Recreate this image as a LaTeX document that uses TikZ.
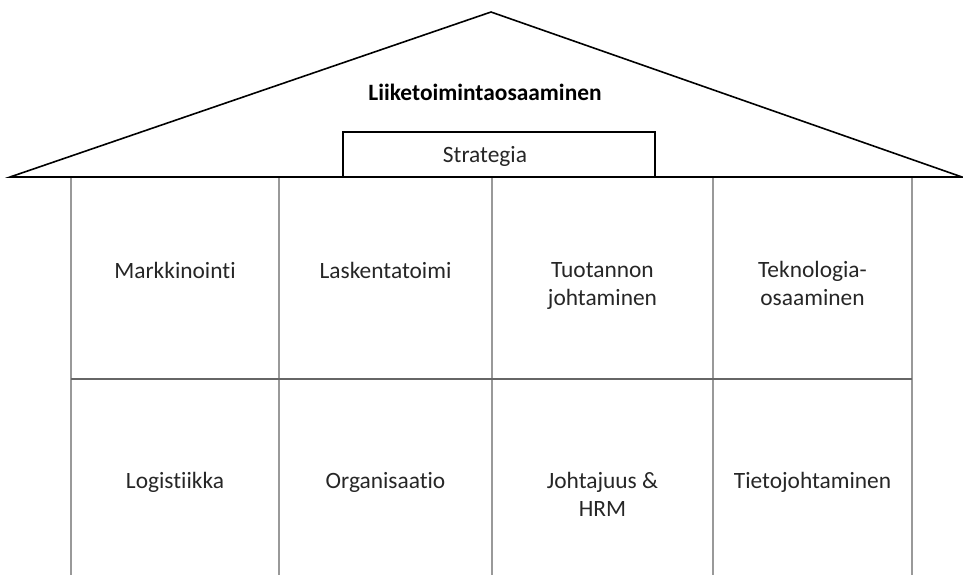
\documentclass[tikz,border=0pt]{standalone}
\usepackage{fontspec}
\setmainfont{Carlito}[Ligatures={NoCommon}]
\usepackage{tikz}
\usetikzlibrary{positioning}

\begin{document}
\begin{tikzpicture}[
  x=0.5pt, y=-0.5pt,
  font=\fontsize{11.7}{13.6}\selectfont,
  roof/.style={draw=black, line width=0.8pt, line join=miter},
  pillar/.style={draw=gray!80, line width=1pt},
  floor/.style={draw=black!60, line width=1pt},
  cell/.style={anchor=base, align=center, inner sep=0pt, text=black!85},
]
\useasboundingbox (0,0) rectangle (963,575);

% pillars and floor
\foreach \px/\nm in {71/p0, 279/p1, 492/p2, 713/p3, 912/p4}{
  \coordinate (\nm t) at (\px,177);
  \coordinate (\nm b) at (\px,575);
  \draw[pillar] (\nm t) -- (\nm b);
}
\coordinate (fl) at (71,379);
\coordinate (fr) at (912,379);
\draw[floor] (fl) -- (fr);

% roof
\coordinate (rl) at (10,177);
\coordinate (rt) at (491,12);
\coordinate (rr) at (962,177);
\draw[roof] (rl) -- (rt) -- (rr) -- cycle;
\node[cell, font=\fontsize{11.7}{13.6}\selectfont\bfseries, text=black] (lio) at (485,100) {Liiketoimintaosaaminen};

\draw[roof] (343,177) rectangle (655,132);
\node[cell] (str) at (485,162) {Strategia};

% upper row (base = last line)
\node[cell] (mar) at (175,278) {Markkinointi};
\node[cell] (las) at (385.5,278) {Laskentatoimi};
\node[cell] (tuo) at (602.5,305) {Tuotannon\\johtaminen};
\node[cell] (tek) at (812.5,305) {Teknologia-\\osaaminen};

% lower row
\node[cell] (log) at (175,488) {Logistiikka};
\node[cell] (org) at (385.5,488) {Organisaatio};
\node[cell] (joh) at (602.5,516) {Johtajuus \&\\HRM};
\node[cell] (tie) at (812.5,488) {Tietojohtaminen};
\end{tikzpicture}
\end{document}
